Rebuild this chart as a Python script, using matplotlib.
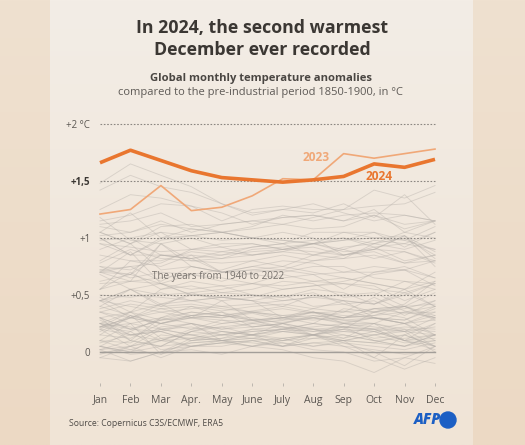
import numpy as np
import matplotlib
matplotlib.use("Agg")
import matplotlib.pyplot as plt
from matplotlib.patches import Circle

months = ["Jan", "Feb", "Mar", "Apr.", "May", "June", "July", "Aug", "Sep", "Oct", "Nov", "Dec"]
ytick_vals = [0, 0.5, 1, 1.5, 2]
ytick_labels = ["0", "+0,5", "+1", "+1,5", "+2 °C"]

y2023 = [1.21, 1.25, 1.46, 1.24, 1.27, 1.37, 1.52, 1.51, 1.74, 1.70, 1.74, 1.78]
y2024 = [1.66, 1.77, 1.68, 1.59, 1.53, 1.51, 1.49, 1.51, 1.54, 1.65, 1.62, 1.69]

# Years 1940-1949
years_1940s = [
    [0.22, 0.30, 0.25, 0.32, 0.30, 0.35, 0.38, 0.34, 0.36, 0.30, 0.28, 0.40],
    [0.35, 0.42, 0.38, 0.40, 0.36, 0.40, 0.42, 0.38, 0.35, 0.48, 0.36, 0.30],
    [0.30, 0.20, 0.28, 0.32, 0.30, 0.34, 0.28, 0.30, 0.26, 0.30, 0.25, 0.28],
    [0.18, 0.30, 0.25, 0.30, 0.28, 0.26, 0.30, 0.32, 0.30, 0.38, 0.34, 0.35],
    [0.45, 0.40, 0.35, 0.38, 0.40, 0.42, 0.45, 0.48, 0.50, 0.52, 0.40, 0.32],
    [0.35, 0.25, 0.30, 0.40, 0.32, 0.36, 0.40, 0.50, 0.45, 0.30, 0.25, 0.10],
    [0.25, 0.20, 0.18, 0.25, 0.10, 0.12, 0.18, 0.15, 0.20, 0.12, 0.15, 0.05],
    [0.10, 0.08, 0.22, 0.25, 0.20, 0.25, 0.22, 0.18, 0.20, 0.35, 0.30, 0.15],
    [0.30, 0.10, 0.05, 0.18, 0.22, 0.15, 0.12, 0.15, 0.18, 0.20, 0.10, 0.12],
    [0.28, 0.15, 0.20, 0.15, 0.10, 0.05, 0.10, 0.15, 0.12, 0.18, 0.10, 0.02],
]
years_1950s = [
    [-0.02, 0.05, 0.12, 0.05, 0.10, 0.12, 0.08, 0.05, 0.08, 0.00, -0.12, 0.05],
    [0.02, -0.08, 0.00, 0.12, 0.18, 0.15, 0.20, 0.22, 0.25, 0.20, 0.18, 0.30],
    [0.25, 0.22, 0.10, 0.18, 0.15, 0.18, 0.20, 0.25, 0.22, 0.10, 0.05, 0.15],
    [0.22, 0.30, 0.35, 0.30, 0.32, 0.28, 0.26, 0.30, 0.28, 0.25, 0.18, 0.22],
    [0.05, 0.18, 0.02, 0.05, 0.08, 0.10, 0.05, 0.08, 0.10, 0.15, 0.18, 0.00],
    [0.20, 0.05, -0.05, 0.05, 0.08, 0.10, 0.05, 0.15, 0.05, -0.05, -0.15, -0.05],
    [-0.05, -0.08, 0.00, 0.02, -0.02, 0.05, 0.08, 0.02, 0.00, -0.08, -0.05, 0.05],
    [0.02, 0.10, 0.05, 0.18, 0.25, 0.28, 0.20, 0.25, 0.22, 0.20, 0.25, 0.35],
    [0.40, 0.32, 0.25, 0.20, 0.28, 0.22, 0.25, 0.20, 0.22, 0.18, 0.22, 0.20],
    [0.22, 0.18, 0.30, 0.25, 0.20, 0.22, 0.25, 0.20, 0.15, 0.10, 0.12, 0.15],
]
years_1960s = [
    [0.10, 0.25, -0.02, 0.10, 0.15, 0.18, 0.20, 0.18, 0.22, 0.20, 0.10, 0.25],
    [0.25, 0.35, 0.28, 0.30, 0.25, 0.28, 0.22, 0.20, 0.18, 0.15, 0.20, 0.05],
    [0.22, 0.25, 0.20, 0.22, 0.15, 0.20, 0.18, 0.15, 0.22, 0.25, 0.20, 0.18],
    [0.15, 0.32, 0.12, 0.15, 0.18, 0.15, 0.25, 0.30, 0.35, 0.38, 0.40, 0.28],
    [0.25, 0.15, 0.10, 0.05, 0.08, 0.05, 0.02, -0.05, -0.08, -0.18, -0.05, -0.10],
    [0.05, 0.00, 0.05, 0.08, 0.10, 0.15, 0.10, 0.12, 0.15, 0.10, 0.05, 0.15],
    [0.08, 0.15, 0.18, 0.10, 0.12, 0.20, 0.22, 0.15, 0.10, 0.08, 0.15, 0.05],
    [0.05, 0.00, 0.15, 0.12, 0.10, 0.15, 0.18, 0.20, 0.12, 0.25, 0.10, 0.15],
    [-0.05, 0.05, 0.20, 0.15, 0.10, 0.08, 0.05, 0.12, 0.10, 0.15, 0.08, 0.10],
    [0.15, 0.12, 0.25, 0.30, 0.32, 0.28, 0.30, 0.28, 0.30, 0.32, 0.35, 0.40],
]
years_1970s = [
    [0.30, 0.35, 0.20, 0.25, 0.18, 0.15, 0.20, 0.15, 0.20, 0.18, 0.10, 0.05],
    [0.05, -0.02, 0.00, 0.08, 0.10, 0.05, 0.12, 0.15, 0.10, 0.08, 0.05, 0.10],
    [0.02, 0.05, 0.10, 0.20, 0.22, 0.25, 0.28, 0.35, 0.30, 0.35, 0.38, 0.45],
    [0.45, 0.50, 0.48, 0.45, 0.40, 0.35, 0.32, 0.30, 0.25, 0.22, 0.18, 0.15],
    [0.00, 0.02, 0.10, 0.12, 0.15, 0.12, 0.10, 0.15, 0.08, 0.05, 0.02, 0.08],
    [0.20, 0.15, 0.18, 0.10, 0.12, 0.15, 0.05, 0.08, 0.05, 0.02, -0.02, 0.00],
    [0.10, 0.02, -0.02, 0.05, 0.05, 0.10, 0.12, 0.05, 0.10, -0.05, 0.15, 0.25],
    [0.22, 0.35, 0.42, 0.45, 0.48, 0.45, 0.40, 0.35, 0.30, 0.32, 0.40, 0.30],
    [0.35, 0.30, 0.38, 0.32, 0.35, 0.22, 0.25, 0.15, 0.25, 0.25, 0.35, 0.30],
    [0.25, 0.10, 0.30, 0.35, 0.32, 0.35, 0.30, 0.38, 0.45, 0.42, 0.50, 0.60],
]
years_1980s = [
    [0.45, 0.55, 0.42, 0.50, 0.52, 0.50, 0.45, 0.48, 0.45, 0.42, 0.52, 0.40],
    [0.68, 0.55, 0.60, 0.50, 0.48, 0.50, 0.48, 0.52, 0.42, 0.35, 0.40, 0.52],
    [0.20, 0.32, 0.25, 0.32, 0.35, 0.28, 0.30, 0.25, 0.38, 0.35, 0.42, 0.62],
    [0.70, 0.62, 0.60, 0.55, 0.58, 0.50, 0.48, 0.55, 0.52, 0.42, 0.55, 0.40],
    [0.45, 0.30, 0.42, 0.30, 0.45, 0.28, 0.30, 0.35, 0.32, 0.30, 0.25, 0.15],
    [0.30, 0.20, 0.28, 0.35, 0.32, 0.30, 0.25, 0.32, 0.28, 0.30, 0.25, 0.32],
    [0.38, 0.45, 0.40, 0.42, 0.38, 0.35, 0.32, 0.35, 0.30, 0.38, 0.40, 0.42],
    [0.45, 0.55, 0.40, 0.52, 0.55, 0.60, 0.68, 0.62, 0.65, 0.60, 0.55, 0.70],
    [0.75, 0.65, 0.70, 0.68, 0.65, 0.60, 0.58, 0.62, 0.60, 0.58, 0.45, 0.55],
    [0.40, 0.55, 0.50, 0.52, 0.45, 0.48, 0.55, 0.58, 0.60, 0.55, 0.52, 0.60],
]
years_1990s = [
    [0.60, 0.62, 0.95, 0.75, 0.70, 0.68, 0.65, 0.68, 0.55, 0.70, 0.75, 0.65],
    [0.70, 0.75, 0.62, 0.75, 0.70, 0.72, 0.75, 0.70, 0.65, 0.60, 0.55, 0.62],
    [0.72, 0.68, 0.60, 0.50, 0.48, 0.45, 0.30, 0.35, 0.25, 0.30, 0.28, 0.38],
    [0.50, 0.48, 0.52, 0.45, 0.48, 0.45, 0.50, 0.40, 0.42, 0.45, 0.32, 0.45],
    [0.48, 0.35, 0.55, 0.62, 0.58, 0.60, 0.55, 0.58, 0.62, 0.68, 0.72, 0.65],
    [0.80, 0.95, 0.72, 0.75, 0.70, 0.75, 0.80, 0.78, 0.70, 0.75, 0.72, 0.58],
    [0.55, 0.70, 0.55, 0.58, 0.52, 0.55, 0.62, 0.60, 0.48, 0.50, 0.62, 0.60],
    [0.55, 0.62, 0.65, 0.68, 0.72, 0.80, 0.75, 0.85, 0.92, 0.95, 0.90, 0.98],
    [1.05, 1.22, 1.00, 1.08, 1.05, 1.00, 1.05, 1.00, 0.85, 0.88, 0.78, 0.85],
    [0.70, 0.88, 0.60, 0.68, 0.62, 0.70, 0.72, 0.68, 0.70, 0.70, 0.72, 0.80],
]
years_2000s = [
    [0.55, 0.80, 0.75, 0.85, 0.70, 0.72, 0.70, 0.75, 0.75, 0.65, 0.62, 0.55],
    [0.70, 0.68, 0.85, 0.82, 0.85, 0.88, 0.90, 0.92, 0.85, 0.90, 1.02, 0.88],
    [0.98, 1.00, 1.05, 0.90, 0.88, 0.92, 0.95, 0.85, 0.90, 0.82, 0.88, 0.78],
    [1.00, 0.85, 0.85, 0.82, 0.88, 0.85, 0.88, 0.95, 0.98, 1.05, 0.92, 1.05],
    [0.90, 1.00, 0.85, 0.82, 0.70, 0.75, 0.72, 0.80, 0.82, 0.95, 1.00, 0.85],
    [0.95, 0.85, 0.98, 1.02, 0.98, 1.00, 0.98, 0.95, 1.05, 1.00, 0.98, 0.90],
    [0.78, 0.90, 0.82, 0.80, 0.82, 0.90, 0.92, 0.95, 0.90, 0.98, 0.95, 1.05],
    [1.18, 0.98, 0.95, 1.00, 0.92, 0.85, 0.88, 0.85, 0.82, 0.85, 0.78, 0.80],
    [0.62, 0.68, 0.95, 0.80, 0.78, 0.80, 0.85, 0.80, 0.85, 0.90, 0.88, 0.80],
    [0.85, 0.80, 0.80, 0.88, 0.85, 0.92, 0.95, 0.98, 1.00, 0.92, 0.95, 0.90],
]
years_2010s = [
    [1.02, 1.05, 1.12, 1.08, 1.05, 1.00, 0.98, 0.95, 0.88, 0.90, 1.02, 0.75],
    [0.75, 0.72, 0.85, 0.85, 0.82, 0.85, 0.90, 0.88, 0.85, 0.92, 0.80, 0.85],
    [0.72, 0.75, 0.78, 0.90, 0.95, 0.95, 0.90, 0.95, 0.98, 1.00, 1.02, 0.82],
    [0.95, 0.92, 0.88, 0.90, 0.92, 0.95, 0.90, 0.95, 1.00, 0.95, 1.05, 1.00],
    [1.00, 0.85, 1.00, 1.02, 1.05, 1.00, 0.95, 1.05, 1.05, 1.05, 0.98, 1.10],
    [1.10, 1.05, 1.15, 1.05, 1.12, 1.15, 1.12, 1.18, 1.25, 1.42, 1.35, 1.46],
    [1.48, 1.65, 1.55, 1.45, 1.30, 1.22, 1.25, 1.30, 1.22, 1.15, 1.20, 1.15],
    [1.25, 1.38, 1.35, 1.28, 1.22, 1.12, 1.18, 1.20, 1.15, 1.20, 1.12, 1.15],
    [1.05, 0.95, 1.10, 1.12, 1.05, 1.08, 1.12, 1.08, 1.10, 1.20, 1.08, 1.15],
    [1.15, 1.20, 1.30, 1.28, 1.15, 1.25, 1.28, 1.25, 1.25, 1.28, 1.30, 1.40],
]
years_2020s = [
    [1.42, 1.55, 1.45, 1.40, 1.30, 1.20, 1.25, 1.22, 1.30, 1.18, 1.38, 1.12],
    [1.05, 0.95, 1.05, 1.02, 1.05, 1.10, 1.20, 1.15, 1.20, 1.22, 1.20, 1.15],
    [1.12, 1.15, 1.22, 1.10, 1.12, 1.15, 1.18, 1.20, 1.15, 1.25, 1.05, 1.15],
]

W, H = 525, 445
fig = plt.figure(figsize=(W / 100, H / 100), dpi=100)

# background
bg = fig.add_axes([0, 0, 1, 1], zorder=-10)
bg.axis("off")
yy = np.linspace(0, 1, 200)[:, None]
xx = np.linspace(0, 1, 200)[None, :]
c_top = np.array([239, 225, 208]) / 255
c_bot = np.array([236, 217, 196]) / 255
grad = c_top * (1 - yy[..., None]) + c_bot * yy[..., None]
grad = grad + 0 * xx[..., None]
bg.imshow(grad, extent=[0, W, H, 0], aspect="auto", zorder=0)
p_top = np.array([243, 237, 230]) / 255
p_bot = np.array([240, 228, 214]) / 255
pgrad = p_top * (1 - yy[..., None]) + p_bot * yy[..., None]
pgrad = pgrad + 0 * xx[..., None]
bg.imshow(pgrad, extent=[50, 473, H, 0], aspect="auto", zorder=1)
bg.set_xlim(0, W)
bg.set_ylim(H, 0)

FONT = "Open Sans"
dark = "#3b3733"

fig.text(262 / W, 1 - 28 / H, "In 2024, the second warmest", ha="center", va="center",
         fontsize=12.8, fontweight="bold", color=dark, family=FONT)
fig.text(262 / W, 1 - 50 / H, "December ever recorded", ha="center", va="center",
         fontsize=12.8, fontweight="bold", color=dark, family=FONT)
fig.text(261 / W, 1 - 78 / H, "Global monthly temperature anomalies", ha="center", va="center",
         fontsize=8.1, fontweight="bold", color="#4a4642", family=FONT)
fig.text(260 / W, 1 - 93 / H, "compared to the pre-industrial period 1850-1900, in °C", ha="center",
         va="center", fontsize=8.0, color="#5e5a56", family=FONT)

# main axes
ymin, ymax = -0.30, 2.05
ax = fig.add_axes([100 / W, 1 - 386.2 / H, 335 / W, (386.2 - 118.3) / H])
ax.set_facecolor("none")
x = np.arange(len(months))
ax.set_xlim(0, len(months) - 1)
ax.set_ylim(ymin, ymax)
for s in ax.spines.values():
    s.set_visible(False)

all_grey = (years_1940s + years_1950s + years_1960s + years_1970s + years_1980s
            + years_1990s + years_2000s + years_2010s + years_2020s)
for series in all_grey:
    ax.plot(x, series, color="#b5afa9", lw=0.65, alpha=0.42, zorder=2, clip_on=False)

for v in ytick_vals[1:]:
    ax.plot([0, len(months) - 1], [v, v], ls=(0, (1.5, 1.5)), color="#8c8782", lw=0.8, zorder=3, clip_on=False)
ax.plot([0, len(months) - 1], [0, 0], color="#a39e99", lw=1.0, zorder=3, clip_on=False)

ax.plot(x, y2023, color="#f0a878", lw=1.2, zorder=5, clip_on=False)
ax.plot(x, y2024, color="#e9762f", lw=2.6, zorder=6, clip_on=False, solid_capstyle="butt")

ax.text(7.1, 1.71, "2023", color="#f0a878", fontsize=8.6, fontweight="bold", ha="center", va="center", family=FONT)
ax.text(9.16, 1.54, "2024", color="#e9762f", fontsize=8.6, fontweight="bold", ha="center", va="center", family=FONT)
ax.text(3.87, 0.66, "The years from 1940 to 2022", color="#77726d", fontsize=7.1, ha="center", va="center", family=FONT)

ax.set_yticks(ytick_vals)
ax.set_yticklabels(ytick_labels, family=FONT, fontsize=7.0, color="#5b5752")
for lbl in ax.get_yticklabels():
    if lbl.get_text() == "+1,5":
        lbl.set_fontweight("bold")
        lbl.set_color("#3b3733")
ax.tick_params(axis="y", length=0, pad=7)

ax.set_xticks(x)
ax.set_xticklabels(months, family=FONT, fontsize=7.5, color="#5b5752")
ax.tick_params(axis="x", direction="in", length=2.5, width=0.5, color="#a8a39e", pad=6)

fig.text(69 / W, 1 - 423 / H, "Source: Copernicus C3S/ECMWF, ERA5", ha="left", va="center",
         fontsize=6.2, color="#4f4b47", family=FONT)
fig.text(441 / W, 1 - 420 / H, "AFP", ha="right", va="center", fontsize=10.5, fontweight="heavy",
         style="italic", color="#1c5fc4", family=FONT)
bg.add_patch(Circle((448, 420), 8, color="#1c5fc4", zorder=5))

fig.savefig("out.png", dpi=100)
